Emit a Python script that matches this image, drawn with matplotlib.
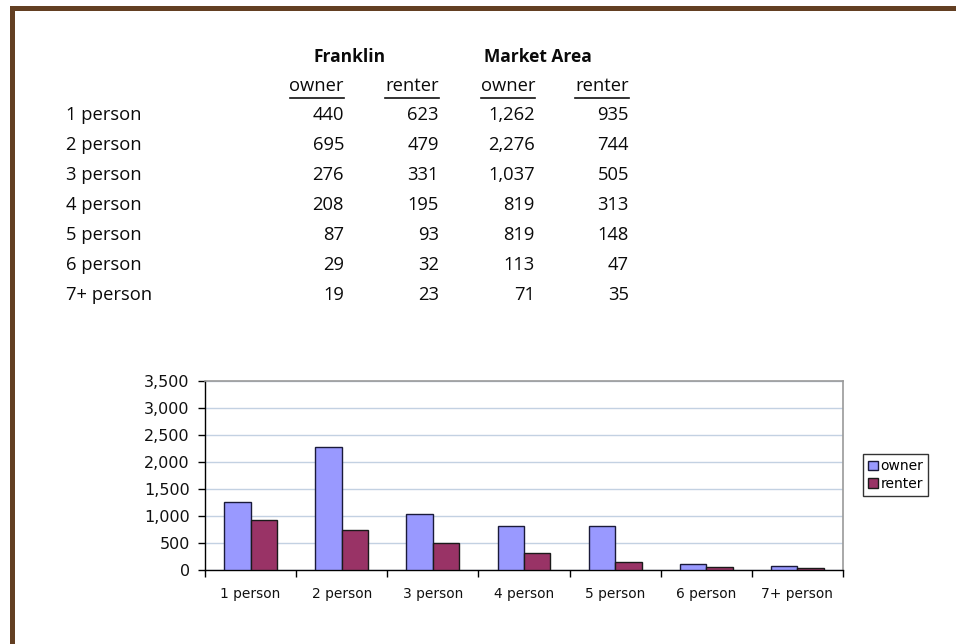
import matplotlib
matplotlib.use("Agg")
import matplotlib.pyplot as plt
from matplotlib.patches import Rectangle
from matplotlib.lines import Line2D
from matplotlib.ticker import FuncFormatter, FixedLocator
import numpy as np

categories = ["1 person", "2 person", "3 person", "4 person", "5 person", "6 person", "7+ person"]
franklin_owner = [440, 695, 276, 208, 87, 29, 19]
franklin_renter = [623, 479, 331, 195, 93, 32, 23]
market_owner = [1262, 2276, 1037, 819, 819, 113, 71]
market_renter = [935, 744, 505, 313, 148, 47, 35]
yticks = [0, 500, 1000, 1500, 2000, 2500, 3000, 3500]

W, H = 956, 644
fig = plt.figure(figsize=(W / 100, H / 100), dpi=100)
fig.patch.set_facecolor("white")

def fx(x):
    return x / W

def fy(y):
    return 1 - y / H

# brown frame
brown = "#633F22"
fig.patches.append(Rectangle((fx(10), 0), fx(15) - fx(10), fy(6), transform=fig.transFigure,
                             facecolor=brown, edgecolor="none", zorder=5))
fig.patches.append(Rectangle((fx(10), fy(11)), 1 - fx(10), fy(6) - fy(11), transform=fig.transFigure,
                             facecolor=brown, edgecolor="none", zorder=5))

# ---- table ----
fam = ["Open Sans", "DejaVu Sans"]
tfont = dict(family=fam, fontsize=13.2, color="#0a0a0a")
fig.text(fx(350), fy(62), "Franklin", ha="center", va="baseline", fontweight="bold",
         family=fam, fontsize=12.5, color="#0a0a0a")
fig.text(fx(538), fy(62), "Market Area", ha="center", va="baseline", fontweight="bold",
         family=fam, fontsize=12.5, color="#0a0a0a")

col_right = [344, 439, 535, 629]
sub_heads = ["owner", "renter", "owner", "renter"]
sub_texts = []
for xr, s in zip(col_right, sub_heads):
    t = fig.text(fx(xr), fy(91), s, ha="right", va="baseline", **tfont)
    sub_texts.append(t)

row_y = [120, 150, 180, 210, 240, 270, 300]
cols = [franklin_owner, franklin_renter, market_owner, market_renter]
for i, cat in enumerate(categories):
    fig.text(fx(66), fy(row_y[i]), cat, ha="left", va="baseline", **tfont)
    for xr, col in zip(col_right, cols):
        fig.text(fx(xr), fy(row_y[i]), f"{col[i]:,}", ha="right", va="baseline", **tfont)

# underline sub headers
fig.canvas.draw()
r = fig.canvas.get_renderer()
for t in sub_texts:
    bb = t.get_window_extent(renderer=r)
    fig.lines.append(Line2D([bb.x0 / W, bb.x1 / W], [fy(98), fy(98)], transform=fig.transFigure,
                            color="#111111", lw=1.2))

# ---- chart ----
ax = fig.add_axes([fx(205), fy(570), fx(843) - fx(205), fy(381) - fy(570)])
x = np.arange(len(categories))
bw = 0.29
ax.bar(x - bw / 2, market_owner, bw, color="#9999FF", edgecolor="#1a1a3a", linewidth=1.0,
       label="owner", zorder=3)
ax.bar(x + bw / 2, market_renter, bw, color="#993366", edgecolor="#1a1a1a", linewidth=1.0,
       label="renter", zorder=3)
ax.set_xlim(-0.5, len(categories) - 0.5)
ax.set_ylim(0, 3500)
ax.set_yticks(yticks)
ax.yaxis.set_major_formatter(FuncFormatter(lambda v, p: f"{int(v):,}"))
ax.set_xticks(x)
ax.set_xticklabels(categories)
ax.xaxis.set_minor_locator(FixedLocator(np.arange(-0.5, len(categories), 1.0)))
ax.tick_params(axis="x", which="major", length=0, pad=12, labelsize=9.9, labelcolor="#111111")
ax.tick_params(axis="x", which="minor", length=5, width=1.0, direction="out", color="black")
ax.tick_params(axis="y", length=5, width=1.0, direction="out", labelsize=11.5, labelcolor="#111111", pad=6)
ax.grid(axis="y", color="#C3D1E2", linewidth=1.0, zorder=0)
for side in ["top", "right"]:
    ax.spines[side].set_color("#9a9a9a")
    ax.spines[side].set_linewidth(1.2)
for side in ["left", "bottom"]:
    ax.spines[side].set_color("black")
    ax.spines[side].set_linewidth(1.0)
ax.set_facecolor("white")

leg = fig.legend(loc="center left", bbox_to_anchor=(fx(863), fy(475)), frameon=True, fancybox=False,
                 edgecolor="black", fontsize=10, handlelength=0.7, handleheight=0.7,
                 handletextpad=0.2, borderpad=0.35, labelspacing=0.25, borderaxespad=0)
leg.get_frame().set_linewidth(1.0)

fig.savefig("out.png", dpi=100, facecolor="white")
